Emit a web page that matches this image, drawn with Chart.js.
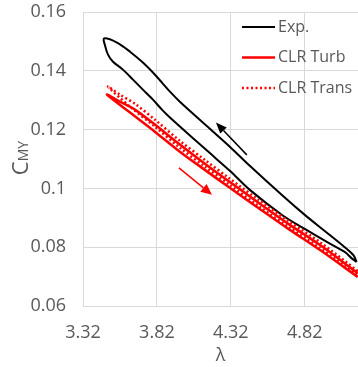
<!DOCTYPE html>
<html>
<head>
<meta charset="utf-8">
<script src="https://cdn.jsdelivr.net/npm/chart.js@4"></script>
<style>
  html, body { margin: 0; padding: 0; background: #fff; }
  .chart-box { width: 358px; height: 367px; }
</style>
</head>
<body>
<div class="chart-box"><canvas id="chartCanvas"></canvas></div>
<script>
// Experiment loop: upper branch (λ decreasing) and lower branch, both listed from the left tip
const expUpperLambda = [3.462, 3.550, 3.638, 3.725, 3.793, 3.854, 3.908, 3.975, 4.178, 4.313, 4.448, 4.671, 4.820, 4.955, 5.090, 5.150, 5.171];
const expUpperCmy    = [0.1510, 0.1496, 0.1465, 0.1428, 0.1394, 0.1360, 0.1329, 0.1295, 0.1203, 0.1142, 0.1077, 0.0975, 0.0910, 0.0855, 0.0800, 0.0772, 0.0750];
const expLowerLambda = [3.462, 3.469, 3.489, 3.523, 3.590, 3.658, 3.725, 3.793, 3.854, 3.908, 4.043, 4.178, 4.313, 4.448, 4.671, 4.820, 4.955, 5.090, 5.138, 5.171];
const expLowerCmy    = [0.1510, 0.1486, 0.1455, 0.1431, 0.1404, 0.1370, 0.1336, 0.1302, 0.1268, 0.1241, 0.1180, 0.1120, 0.1060, 0.0995, 0.0908, 0.0862, 0.0822, 0.0784, 0.0762, 0.0750];

// CLR turbulent model
const turbUpperLambda = [3.482, 3.570, 3.671, 3.806, 3.975, 4.144, 4.313, 4.516, 4.719, 4.921, 5.178];
const turbUpperCmy    = [0.1319, 0.1295, 0.1268, 0.1217, 0.1149, 0.1084, 0.1022, 0.0948, 0.0876, 0.0808, 0.0712];
const turbLowerLambda = [3.482, 3.638, 3.806, 3.975, 4.144, 4.313, 4.516, 4.719, 4.921, 5.178];
const turbLowerCmy    = [0.1319, 0.1258, 0.1193, 0.1125, 0.1063, 0.1002, 0.0930, 0.0859, 0.0791, 0.0699];

// CLR transitional model
const transUpperLambda = [3.489, 3.570, 3.671, 3.806, 3.975, 4.144, 4.313, 4.516, 4.719, 4.921, 5.178];
const transUpperCmy    = [0.1346, 0.1319, 0.1288, 0.1234, 0.1162, 0.1097, 0.1033, 0.0958, 0.0886, 0.0818, 0.0719];
const transLowerLambda = [3.489, 3.638, 3.806, 3.975, 4.144, 4.313, 4.516, 4.719, 4.921, 5.178];
const transLowerCmy    = [0.1346, 0.1278, 0.1210, 0.1138, 0.1074, 0.1012, 0.0937, 0.0866, 0.0798, 0.0706];

// direction arrows [tail λ, tail C, head λ, head C]
const expArrow = [4.428, 0.1114, 4.219, 0.1224];
const clrArrow = [3.969, 0.1070, 4.192, 0.0978];

const xTicks = [3.32, 3.82, 4.32, 4.82];
const yTicks = [0.06, 0.08, 0.10, 0.12, 0.14, 0.16];

const FONT = "'Open Sans', 'Noto Sans', sans-serif";
const TEXT_COLOR = '#595959';
const GRID_COLOR = '#d9d9d9';

// walk the upper branch back to the left tip, then along the lower branch
const buildLoop = (upX, upY, loX, loY) => {
  const pts = [];
  for (let i = upX.length - 1; i >= 0; i--) pts.push({ x: upX[i], y: upY[i] });
  for (let i = 1; i < loX.length; i++) pts.push({ x: loX[i], y: loY[i] });
  return pts;
};

const lineSet = (label, data, color, width, dash) => ({
  label,
  data,
  showLine: true,
  borderColor: color,
  backgroundColor: color,
  borderWidth: width,
  borderDash: dash || [],
  pointRadius: 0,
  tension: 0.3,
  fill: false
});

const drawArrow = (ctx, x0, y0, x1, y1, color, width, headLen, headW) => {
  const ang = Math.atan2(y1 - y0, x1 - x0);
  const bx = x1 - headLen * Math.cos(ang);
  const by = y1 - headLen * Math.sin(ang);
  ctx.save();
  ctx.strokeStyle = color;
  ctx.fillStyle = color;
  ctx.lineWidth = width;
  ctx.beginPath();
  ctx.moveTo(x0, y0);
  ctx.lineTo(bx, by);
  ctx.stroke();
  ctx.beginPath();
  ctx.moveTo(x1, y1);
  ctx.lineTo(bx + headW / 2 * Math.sin(ang), by - headW / 2 * Math.cos(ang));
  ctx.lineTo(bx - headW / 2 * Math.sin(ang), by + headW / 2 * Math.cos(ang));
  ctx.closePath();
  ctx.fill();
  ctx.restore();
};

// arrows, legend and axis titles
const overlay = {
  id: 'overlay',
  afterDatasetsDraw(chart) {
    const { ctx, chartArea, scales: { x, y } } = chart;

    drawArrow(ctx, x.getPixelForValue(expArrow[0]), y.getPixelForValue(expArrow[1]),
      x.getPixelForValue(expArrow[2]), y.getPixelForValue(expArrow[3]), '#000', 1.5, 11, 9);
    drawArrow(ctx, x.getPixelForValue(clrArrow[0]), y.getPixelForValue(clrArrow[1]),
      x.getPixelForValue(clrArrow[2]), y.getPixelForValue(clrArrow[3]), '#ff0000', 1.5, 11, 10);

    // legend
    ctx.save();
    ctx.font = `16px ${FONT}`;
    ctx.textBaseline = 'middle';
    ctx.textAlign = 'left';
    chart.data.datasets.forEach((ds) => {
      const ly = 27 + ds.legendRow * 30.5;
      ctx.strokeStyle = ds.borderColor;
      ctx.lineWidth = ds.borderWidth;
      ctx.setLineDash(ds.borderDash);
      ctx.beginPath();
      ctx.moveTo(242, ly);
      ctx.lineTo(275, ly);
      ctx.stroke();
      ctx.setLineDash([]);
      ctx.fillStyle = TEXT_COLOR;
      ctx.fillText(ds.label, 278, ly);
    });
    ctx.restore();

    // axis titles
    ctx.save();
    ctx.fillStyle = TEXT_COLOR;
    ctx.font = `18px ${FONT}`;
    ctx.textAlign = 'center';
    ctx.textBaseline = 'middle';
    ctx.fillText('λ', (chartArea.left + chartArea.right) / 2, 356);

    ctx.translate(28, 158);
    ctx.rotate(-Math.PI / 2);
    ctx.textAlign = 'left';
    ctx.textBaseline = 'alphabetic';
    ctx.font = `22px ${FONT}`;
    const cW = ctx.measureText('C').width;
    ctx.font = `14px ${FONT}`;
    const subW = ctx.measureText('MY').width;
    const startX = -(cW + subW) / 2;
    ctx.font = `22px ${FONT}`;
    ctx.fillText('C', startX, 0);
    ctx.font = `14px ${FONT}`;
    ctx.fillText('MY', startX + cW, 0);
    ctx.restore();
  }
};

const turbLoop = buildLoop(turbUpperLambda, turbUpperCmy, turbLowerLambda, turbLowerCmy);
const transLoop = buildLoop(transUpperLambda, transUpperCmy, transLowerLambda, transLowerCmy);
const expLoop = buildLoop(expUpperLambda, expUpperCmy, expLowerLambda, expLowerCmy);

const datasets = [
  Object.assign(lineSet('CLR Trans', transLoop, '#ff0000', 2.5, [2, 2.5]), { legendRow: 2 }),
  Object.assign(lineSet('CLR Turb', turbLoop, '#ff0000', 2.5), { legendRow: 1 }),
  Object.assign(lineSet('Exp.', expLoop, '#000000', 2), { legendRow: 0 })
];

const ctx = document.getElementById('chartCanvas').getContext('2d');
new Chart(ctx, {
  type: 'scatter',
  data: { datasets },
  options: {
    responsive: true,
    maintainAspectRatio: false,
    animation: false,
    layout: { padding: { top: 12, right: 0, left: 0, bottom: 0 } },
    plugins: {
      legend: { display: false },
      tooltip: { enabled: false }
    },
    scales: {
      x: {
        type: 'linear',
        min: 3.32,
        max: 5.18,
        afterBuildTicks: (scale) => { scale.ticks = xTicks.map(v => ({ value: v })); },
        afterFit: (scale) => {
          scale.height = 61;
          scale.paddingLeft = 0;
          scale.paddingRight = 0;
        },
        ticks: {
          padding: 16,
          color: TEXT_COLOR,
          font: { family: FONT, size: 18 },
          callback: (v) => Number(v).toFixed(2)
        },
        grid: { color: GRID_COLOR, drawTicks: false },
        border: { color: GRID_COLOR }
      },
      y: {
        min: 0.06,
        max: 0.16,
        afterBuildTicks: (scale) => { scale.ticks = yTicks.map(v => ({ value: v })); },
        afterFit: (scale) => {
          scale.width = 83;
          scale.paddingTop = 0;
          scale.paddingBottom = 0;
        },
        ticks: {
          padding: 17,
          color: TEXT_COLOR,
          font: { family: FONT, size: 18 },
          callback: (v) => String(Number(Number(v).toFixed(2)))
        },
        grid: { color: GRID_COLOR, drawTicks: false },
        border: { color: GRID_COLOR }
      }
    }
  },
  plugins: [overlay]
});
</script>
</body>
</html>
